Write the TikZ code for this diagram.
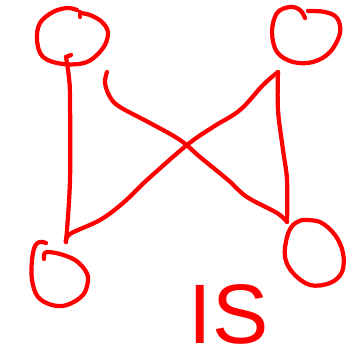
\documentclass[tikz,border=0pt]{standalone}
\usepackage{fontspec}
\setmainfont{Liberation Sans}
\usetikzlibrary{positioning}
\definecolor{SketchRed}{HTML}{FF0000}

\begin{document}
\begin{tikzpicture}[x=0.01cm,y=-0.01cm,line cap=round,line join=round,
  pen/.style={SketchRed,line width=1.2pt},
  blob/.style={pen,smooth,tension=0.6}]
  \useasboundingbox (0,0) rectangle (359,361);
  % corner blobs
  \draw[pen] (80,17) -- (80,12);
  \draw[blob] plot coordinates {(80,13) (90,15) (102,22) (108,33) (103,48) (87,62) (63,64) (43,57) (37,40) (40,23) (53,12) (67,8) (77,10)};
  \draw[blob] plot coordinates {(305,18) (300,10) (290,7) (277,13) (272,32) (277,52) (293,62) (313,62) (330,52) (340,33) (337,18) (325,12) (308,11)};
  \draw[blob] plot coordinates {(46,243) (40,242) (35,246) (32,260) (32,280) (38,297) (52,305) (67,305) (83,295) (88,280) (85,270) (75,260) (60,254) (47,252) (44,255) (44,259)};
  \draw[blob] plot coordinates {(302,220) (320,222) (335,235) (343,253) (342,272) (330,283) (310,285) (293,273) (285,257) (287,237) (293,225) (302,220)};

  \coordinate (TLhook) at (71,55);
  \coordinate (TLfoot) at (66,57);
  \coordinate (BLtop) at (66,242);
  \coordinate (TRfoot) at (278,72);
  \coordinate (BRtop) at (287,222);
  \coordinate (TLtail) at (107,72);

  % connectors
  \draw[pen] (TLhook) -- (TLfoot);
  \draw[blob] plot coordinates {(TLfoot) (69,78) (70,100) (70,180) (BLtop)};
  \draw[blob] plot coordinates {(BLtop) (70,234) (100,220) (123,203) (147,180) (187,145) (213,127) (240,110) (263,85) (TRfoot)};
  \draw[blob] plot coordinates {(TRfoot) (278,110) (283,150) (287,180) (BRtop)};
  \draw[blob] plot coordinates {(BRtop) (277,213) (247,197) (228,180) (200,157) (180,140) (150,123) (120,107) (110,97) (105,83) (TLtail)};

  \node[SketchRed,inner sep=0pt,anchor=base west,font=\fontsize{24}{27}\selectfont] (caption) at (188,343) {IS};
\end{tikzpicture}
\end{document}
